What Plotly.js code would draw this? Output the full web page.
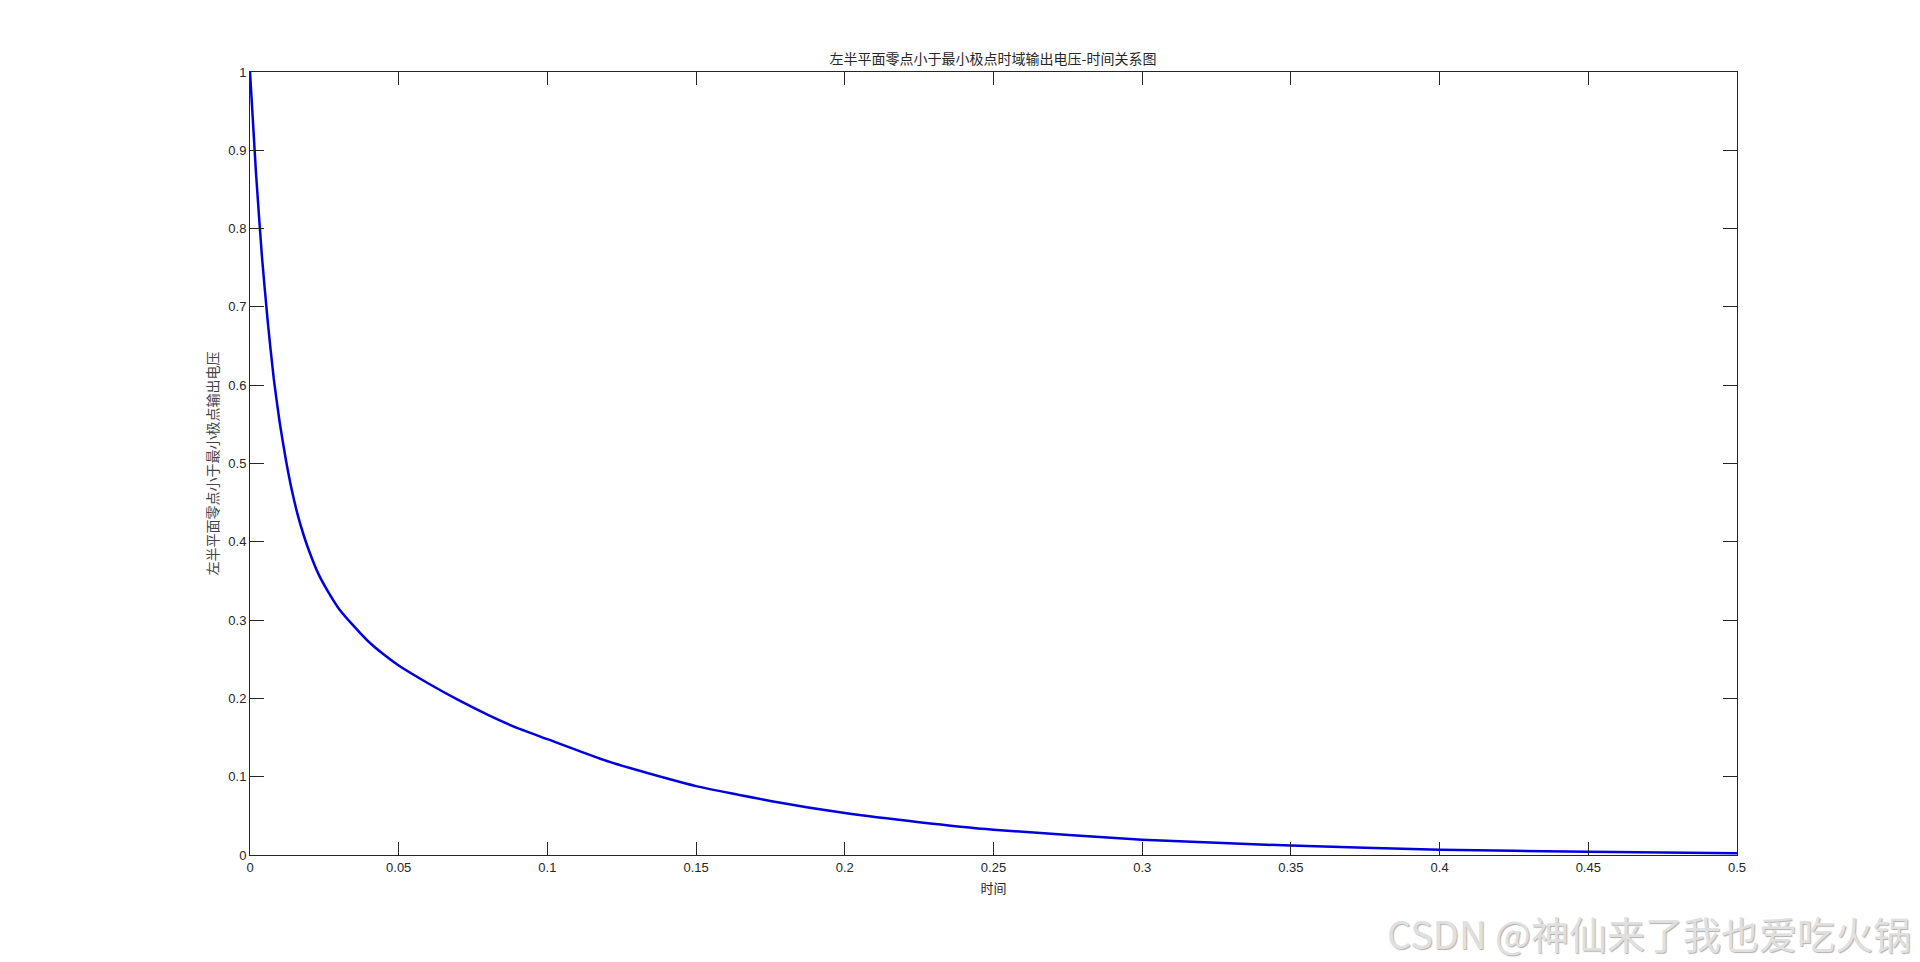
<!DOCTYPE html>
<html>
<head>
<meta charset="utf-8">
<script src="https://cdn.plot.ly/plotly-3.0.1.min.js"></script>
<style>
html,body{margin:0;padding:0;background:#fff;}
#chart{width:1920px;height:962px;}
</style>
</head>
<body>
<div id="chart"></div>
<script>
// Time values (s)
const timeValues = [0, 0.002, 0.004, 0.006, 0.008, 0.010, 0.012, 0.014, 0.016, 0.018, 0.020, 0.023, 0.026, 0.030, 0.035, 0.040, 0.045, 0.050, 0.060, 0.070, 0.080, 0.090, 0.100, 0.120, 0.140, 0.150, 0.175, 0.200, 0.225, 0.250, 0.300, 0.350, 0.400, 0.450, 0.500];
// Output voltage values
const voltageValues = [1.000, 0.872, 0.765, 0.680, 0.608, 0.552, 0.506, 0.467, 0.435, 0.409, 0.387, 0.359, 0.338, 0.314, 0.292, 0.272, 0.256, 0.242, 0.219, 0.198, 0.179, 0.162, 0.148, 0.120, 0.098, 0.088, 0.069, 0.0535, 0.0418, 0.0322, 0.0195, 0.0120, 0.0068, 0.0040, 0.0022];

const chartTitle = '左半平面零点小于最小极点时域输出电压-时间关系图';
const xTitle = '时间';
const yTitle = '左半平面零点小于最小极点输出电压';
const watermark = 'CSDN @神仙来了我也爱吃火锅';

const axisColor = '#262626';
const cjkFont = '"Noto Sans CJK SC", sans-serif';
const tickFont = {family: '"Liberation Sans", Arial, sans-serif', size: 13, color: axisColor};

const trace = {
  x: timeValues,
  y: voltageValues,
  type: 'scatter',
  mode: 'lines',
  line: {color: '#0000dd', width: 2.5, shape: 'spline', smoothing: 0.5},
  hoverinfo: 'x+y'
};

const layout = {
  width: 1920,
  height: 962,
  margin: {l: 250, r: 183, t: 72, b: 107},
  paper_bgcolor: '#ffffff',
  plot_bgcolor: '#ffffff',
  showlegend: false,
  title: {
    text: chartTitle,
    font: {family: cjkFont, size: 14, color: axisColor},
    x: 0.5172, xanchor: 'center',
    y: 1 - 59/962, yanchor: 'middle'
  },
  xaxis: {
    range: [0, 0.5],
    dtick: 0.05,
    tick0: 0,
    ticks: 'inside',
    ticklen: 13,
    tickwidth: 1,
    tickcolor: axisColor,
    showline: true,
    linecolor: axisColor,
    linewidth: 1,
    mirror: 'ticks',
    showgrid: false,
    zeroline: false,
    tickfont: tickFont,
    title: {text: xTitle, font: {family: cjkFont, size: 13, color: axisColor}, standoff: 10}
  },
  yaxis: {
    range: [0, 1],
    dtick: 0.1,
    tick0: 0,
    ticks: 'inside',
    ticklen: 14,
    tickwidth: 1,
    tickcolor: axisColor,
    showline: true,
    linecolor: axisColor,
    linewidth: 1,
    mirror: 'ticks',
    showgrid: false,
    zeroline: false,
    tickfont: tickFont,
    title: {text: yTitle, font: {family: cjkFont, size: 14, color: '#444'}, standoff: 6}
  },
  annotations: [{
    text: watermark,
    xref: 'paper', yref: 'paper',
    x: 1 + 176/1487, y: -77/783,
    xanchor: 'right', yanchor: 'middle',
    showarrow: false,
    font: {family: '"Noto Sans CJK SC", sans-serif', size: 38, color: '#e0e0e0', shadow: '1px 1px 1px #b0b0b0'}
  }]
};

Plotly.newPlot('chart', [trace], layout, {displayModeBar: false, responsive: false});
</script>
</body>
</html>
